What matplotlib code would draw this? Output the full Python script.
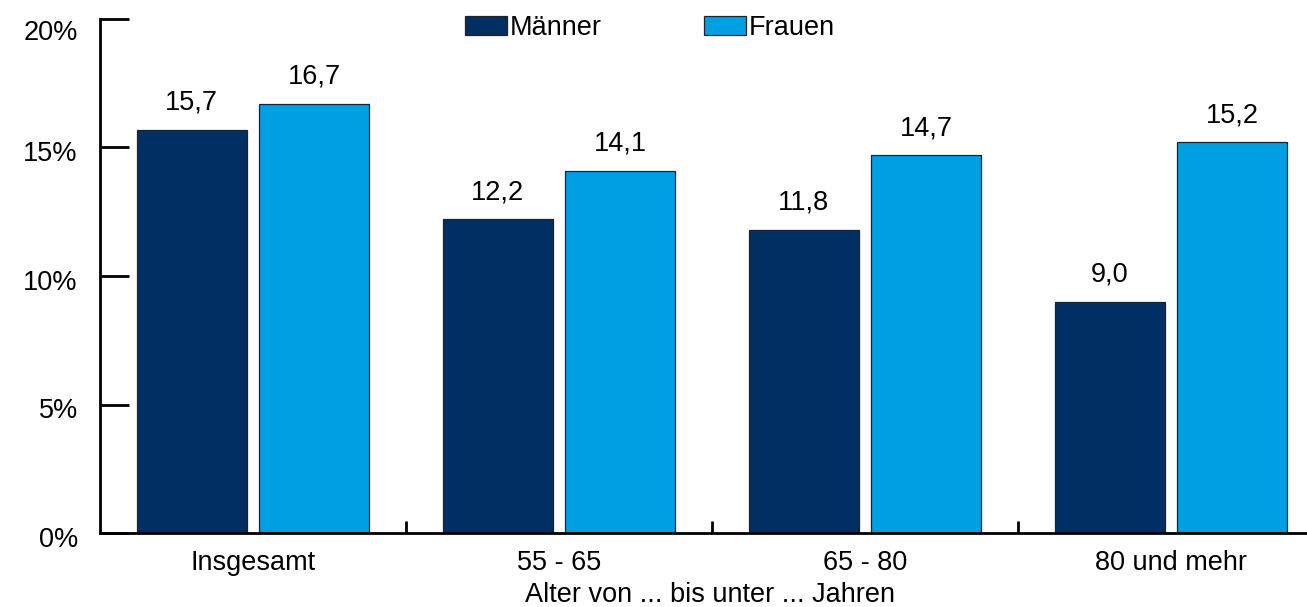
import matplotlib
matplotlib.use("Agg")
import matplotlib.pyplot as plt
from matplotlib.ticker import FixedLocator, FuncFormatter
from matplotlib.transforms import ScaledTranslation
import numpy as np

plt.rcParams["font.family"] = ["Liberation Sans", "DejaVu Sans"]

categories = ["Insgesamt", "55 - 65", "65 - 80", "80 und mehr"]
maenner = [15.7, 12.2, 11.8, 9.0]
frauen = [16.7, 14.1, 14.7, 15.2]
series_names = ["Männer", "Frauen"]
colors = ["#003063", "#009FE3"]

W, H = 1307, 607
fig = plt.figure(figsize=(W / 100, H / 100), dpi=100)
fig.patch.set_facecolor("white")

# axes runs a bit past the right edge of the figure
ax = fig.add_axes([100 / W, 74 / H, 1224 / W, 514 / H])

x = np.arange(len(categories))
width = 0.36
offset = 0.2
fs = 19.5

for vals, name, col, sign in zip([maenner, frauen], series_names, colors, [-1, 1]):
    bars = ax.bar(x + sign * offset, vals, width, color=col, edgecolor="#222222",
                  linewidth=0.9, label=name, zorder=2)
    for b, v in zip(bars, vals):
        ax.annotate(f"{v:.1f}".replace(".", ","),
                    (b.get_x() + b.get_width() / 2, v),
                    xytext=(0, 10), textcoords="offset points",
                    ha="center", va="bottom", fontsize=fs)

ax.set_xlim(-0.5, 3.5)
ax.set_ylim(0, 20)

for s in ["top", "right"]:
    ax.spines[s].set_visible(False)
for s in ["left", "bottom"]:
    ax.spines[s].set_linewidth(2)
    ax.spines[s].set_zorder(3)

ax.set_yticks([0, 5, 10, 15, 20])
ax.yaxis.set_major_formatter(FuncFormatter(lambda v, p: f"{v:.0f}%"))
ax.tick_params(axis="y", direction="in", length=21, width=2, labelsize=fs, pad=16)

# nudge the percent labels slightly below their ticks
fig.canvas.draw()
for lbl in ax.get_yticklabels():
    dy = -11 if lbl.get_text() == "20%" else -4
    lbl.set_transform(lbl.get_transform() + ScaledTranslation(0, dy / 100, fig.dpi_scale_trans))

ax.set_xticks(x)
ax.set_xticklabels(categories)
ax.tick_params(axis="x", which="major", length=0, labelsize=fs, pad=12)
ax.xaxis.set_minor_locator(FixedLocator([0.5, 1.5, 2.5]))
ax.tick_params(axis="x", which="minor", direction="in", length=9, width=2)

fig.text(710 / W, 1 - 602 / H, "Alter von ... bis unter ... Jahren",
         ha="center", va="baseline", fontsize=fs)

fig.legend(loc="center", bbox_to_anchor=(650 / W, 1 - 28 / H), ncol=2,
           frameon=False, fontsize=fs, handlelength=1.55, handleheight=0.75,
           handletextpad=0.1, columnspacing=3.8, borderpad=0)

fig.savefig("out.png", dpi=100, facecolor="white")
